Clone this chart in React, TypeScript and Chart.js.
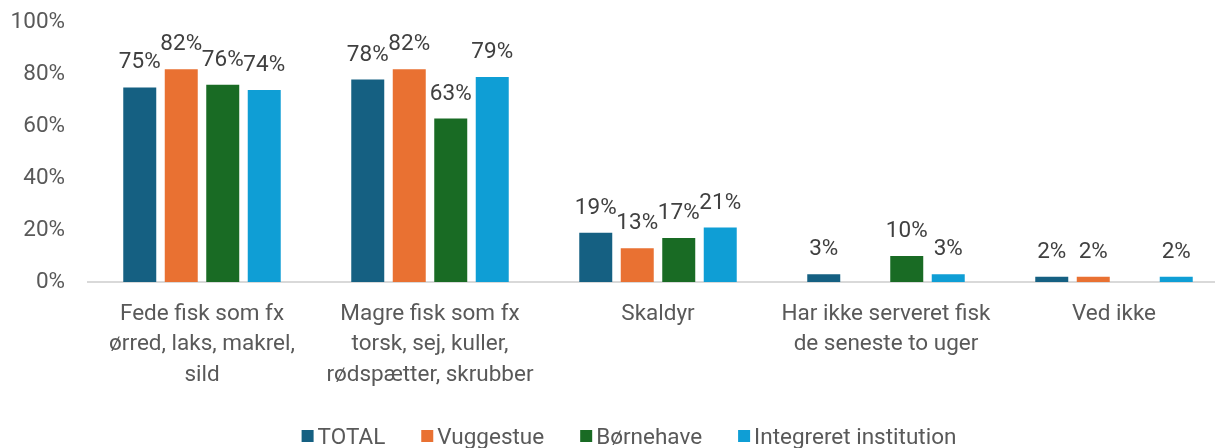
import React, { useEffect, useRef } from "react";
import { Chart, registerables } from "chart.js";

Chart.register(...registerables);

const categories: string[][] = [
  ["Fede fisk som fx", "ørred, laks, makrel,", "sild"],
  ["Magre fisk som fx", "torsk, sej, kuller,", "rødspætter, skrubber"],
  ["Skaldyr"],
  ["Har ikke serveret fisk", "de seneste to uger"],
  ["Ved ikke"],
];
const seriesNames = ["TOTAL", "Vuggestue", "Børnehave", "Integreret institution"];
const totalValues = [75, 78, 19, 3, 2];
const vuggestueValues = [82, 82, 13, null, 2];
const boernehaveValues = [76, 63, 17, 10, null];
const integreretValues = [74, 79, 21, 3, 2];
const yTickValues = [0, 20, 40, 60, 80, 100];
const seriesColors = ["#156082", "#E97132", "#196B24", "#0F9ED5"];

const FONT = "Roboto";
const FS = 22.5;
const SHIFT = 14; // canvas is moved up by this many px

const dataLabelPlugin = {
  id: "dataLabels",
  afterDatasetsDraw(chart: any) {
    const ctx = chart.ctx;
    ctx.save();
    ctx.font = `${FS}px ${FONT}`;
    ctx.fillStyle = "#404040";
    ctx.textAlign = "center";
    ctx.textBaseline = "alphabetic";
    chart.data.datasets.forEach((ds: any, i: number) => {
      const meta = chart.getDatasetMeta(i);
      meta.data.forEach((el: any, j: number) => {
        const v = ds.data[j];
        if (v == null) return;
        ctx.fillText(`${v}%`, el.x, el.y - 19);
      });
    });
    ctx.restore();
  },
};

const legendPlugin = {
  id: "customLegend",
  afterDraw(chart: any) {
    const ctx = chart.ctx;
    const box = 12;
    const textGap = 4;
    const itemGap = 36;
    const centerX = 629;
    const boxTop = 430 + SHIFT;
    const baseline = 444 + SHIFT;
    ctx.save();
    ctx.font = `${FS}px ${FONT}`;
    const items = chart.data.datasets.map((ds: any) => ({
      label: ds.label,
      color: ds.backgroundColor,
      w: ctx.measureText(ds.label).width,
    }));
    const total =
      items.reduce((s: number, it: any) => s + box + textGap + it.w, 0) +
      itemGap * (items.length - 1);
    let x = centerX - total / 2;
    ctx.textAlign = "left";
    ctx.textBaseline = "alphabetic";
    items.forEach((it: any) => {
      ctx.fillStyle = it.color;
      ctx.fillRect(x, boxTop, box, box);
      ctx.fillStyle = "#595959";
      ctx.fillText(it.label, x + box + textGap, baseline);
      x += box + textGap + it.w + itemGap;
    });
    ctx.restore();
  },
};

export default function App() {
  const ref = useRef<HTMLCanvasElement>(null);
  useEffect(() => {
    if (!ref.current) return;
    const seriesValues = [totalValues, vuggestueValues, boernehaveValues, integreretValues];
    const chart = new Chart(ref.current, {
      type: "bar",
      data: {
        labels: categories,
        datasets: seriesNames.map((name, i) => ({
          label: name,
          data: seriesValues[i],
          backgroundColor: seriesColors[i],
          borderWidth: 0,
          categoryPercentage: 0.728,
          barPercentage: 0.795,
        })),
      },
      options: {
        animation: false,
        responsive: false,
        devicePixelRatio: 1,
        layout: { padding: { left: 0, right: 12, top: 0, bottom: 48 } },
        plugins: {
          legend: { display: false },
          tooltip: { enabled: false },
        },
        scales: {
          x: {
            grid: { display: false, drawTicks: false, tickLength: 0 },
            border: { display: true, color: "#d9d9d9", width: 2 },
            ticks: {
              color: "#595959",
              font: { family: FONT, size: FS, lineHeight: 1.35 },
              padding: 17,
              maxRotation: 0,
              autoSkip: false,
            },
            afterFit: (s: any) => {
              s.height = 118;
            },
          },
          y: {
            min: 0,
            max: 100,
            afterBuildTicks: (s: any) => {
              s.ticks = yTickValues.map((v) => ({ value: v }));
            },
            grid: { display: false, drawTicks: false, tickLength: 0 },
            border: { display: false },
            ticks: {
              color: "#595959",
              font: { family: FONT, size: FS },
              padding: 23,
              callback: (v: any) => `${v}%`,
            },
            afterFit: (s: any) => {
              s.width = 88;
            },
          },
        },
      },
      plugins: [dataLabelPlugin, legendPlugin],
    });
    return () => chart.destroy();
  }, []);
  return (
    <div
      style={{
        position: "fixed",
        left: 0,
        top: 0,
        width: 1215,
        height: 448,
        overflow: "hidden",
        background: "#fff",
      }}
    >
      <canvas
        ref={ref}
        width={1240}
        height={448 + SHIFT}
        style={{ display: "block", position: "absolute", left: 0, top: -SHIFT }}
      />
    </div>
  );
}
